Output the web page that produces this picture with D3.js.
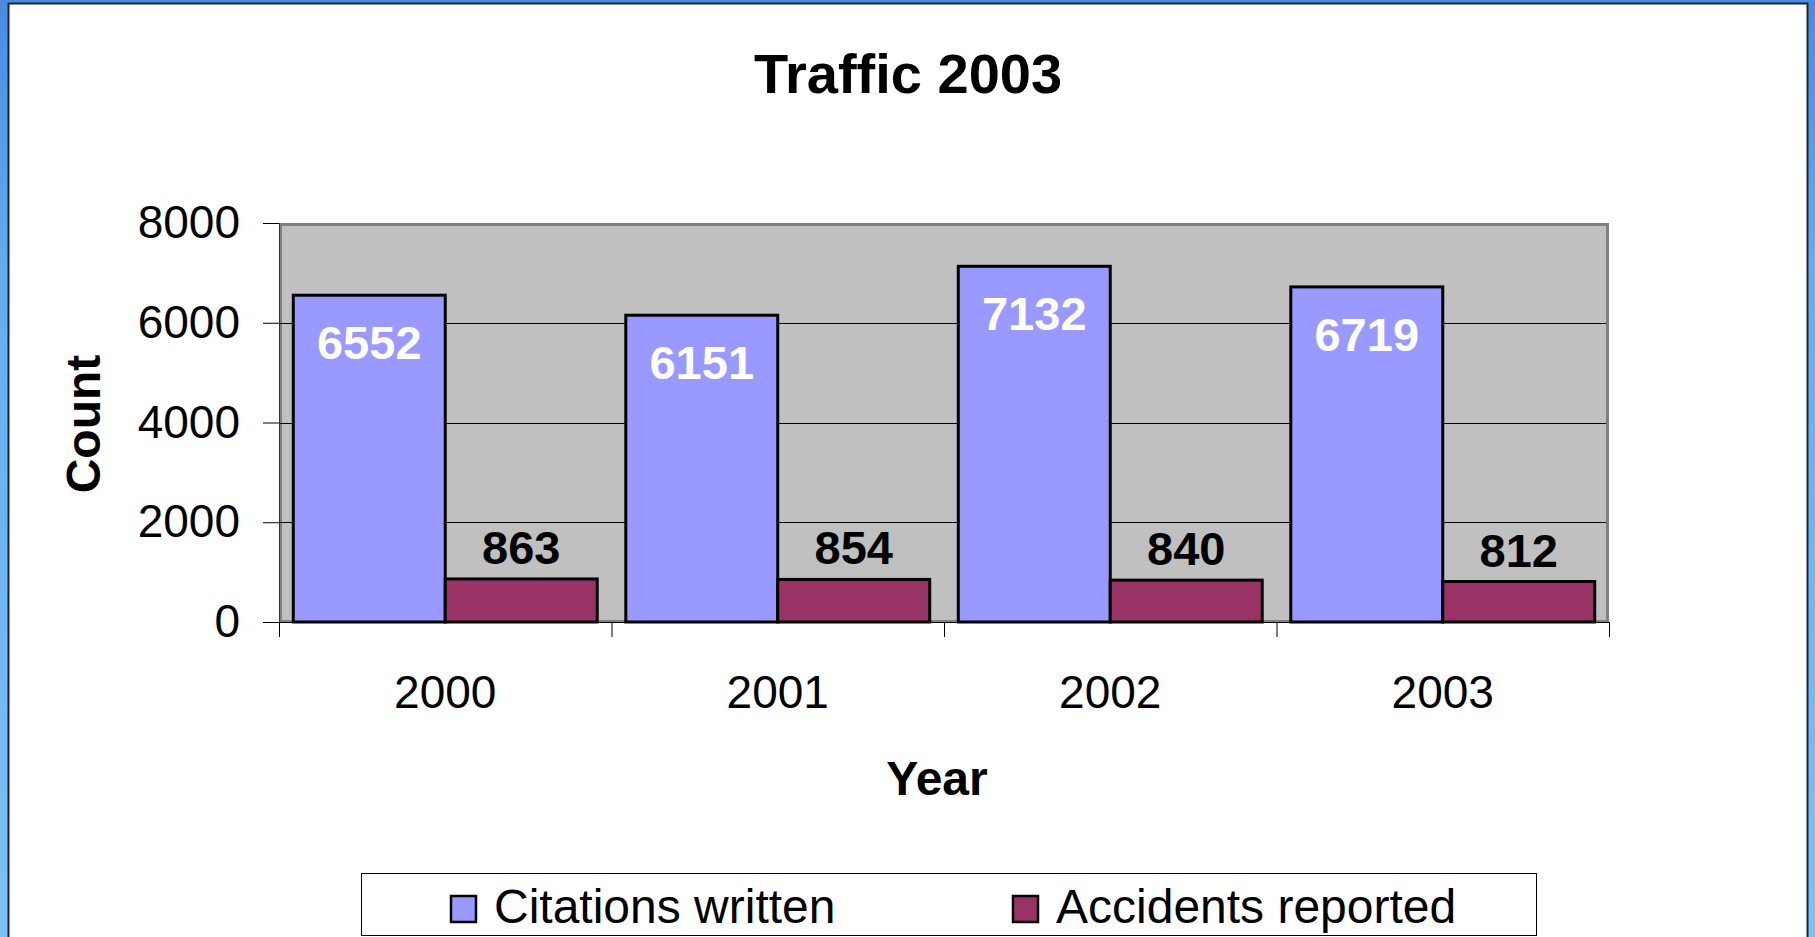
<!DOCTYPE html>
<html>
<head>
<meta charset="utf-8">
<script src="https://cdn.jsdelivr.net/npm/d3@7"></script>
<style>
  body { margin: 0; overflow: hidden; background: #fff; }
  text { font-family: "Liberation Sans", Arial, sans-serif; }
</style>
</head>
<body>
<div id="root"></div>
<script>
const WIDTH = 1815
const HEIGHT = 937

const years = ['2000', '2001', '2002', '2003']
const citations = [6552, 6151, 7132, 6719]
const accidents = [863, 854, 840, 812]
const seriesNames = ['Citations written', 'Accidents reported']
const seriesColors = ['#9999ff', '#993366']
const yTicks = [0, 2000, 4000, 6000, 8000]

const PLOT = { left: 279, right: 1609, top: 223, bottom: 622 }

const rows = years.map((y, i) => ({ year: y, values: [citations[i], accidents[i]] }))

const svg = d3.select('#root')
  .append('svg')
  .attr('width', WIDTH)
  .attr('height', HEIGHT)

// window frame around the chart
const grad = svg.append('defs').append('linearGradient')
  .attr('id', 'frameBlue')
  .attr('x1', 0).attr('y1', 0).attr('x2', 0).attr('y2', 1)
grad.append('stop').attr('offset', '0%').attr('stop-color', '#4a8be0')
grad.append('stop').attr('offset', '30%').attr('stop-color', '#66adf0')
grad.append('stop').attr('offset', '100%').attr('stop-color', '#7cc0f4')

svg.append('rect')
  .attr('width', WIDTH).attr('height', HEIGHT)
  .attr('fill', 'url(#frameBlue)')
svg.append('rect')
  .attr('x', 8.5).attr('y', 3.5)
  .attr('width', 1799).attr('height', 940)
  .attr('fill', '#fff')
  .attr('stroke', '#1c2633')
  .attr('stroke-width', 2)

const x0 = d3.scaleBand()
  .domain(years)
  .range([PLOT.left, PLOT.right])

const x1 = d3.scaleBand()
  .domain(seriesNames)
  .range([0, x0.bandwidth()])
  .paddingOuter(0.094)

const y = d3.scaleLinear()
  .domain([0, 8000])
  .range([PLOT.bottom, PLOT.top])

// plot area
svg.append('rect')
  .attr('x', PLOT.left + 1.5)
  .attr('y', PLOT.top + 1.5)
  .attr('width', PLOT.right - PLOT.left - 3)
  .attr('height', PLOT.bottom - PLOT.top - 2)
  .attr('fill', '#c0c0c0')
  .attr('stroke', '#808080')
  .attr('stroke-width', 3)

svg.append('g')
  .selectAll('line')
  .data(yTicks.filter(d => d > 0 && d < 8000))
  .enter()
  .append('line')
  .attr('x1', PLOT.left)
  .attr('x2', PLOT.right - 3)
  .attr('y1', d => Math.round(y(d)) + 0.5)
  .attr('y2', d => Math.round(y(d)) + 0.5)
  .attr('stroke', '#000')
  .attr('stroke-width', 1)

// y axis
const yAxis = svg.append('g')
  .attr('transform', `translate(${PLOT.left}, 0)`)
  .call(d3.axisLeft(y).tickValues(yTicks).tickFormat(d3.format('d')).tickSize(16).tickPadding(23))
yAxis.select('.domain').attr('stroke', '#333')
yAxis.selectAll('line').attr('stroke', '#000')
yAxis.selectAll('text')
  .attr('font-size', 46)
  .attr('fill', '#000')
  .style('font-family', '"Liberation Sans", Arial, sans-serif')

// x axis: boundary ticks + centred labels
const bounds = d3.scalePoint()
  .domain(d3.range(years.length + 1))
  .range([PLOT.left, PLOT.right])

const xTicks = svg.append('g')
  .attr('transform', `translate(0, ${PLOT.bottom})`)
  .call(d3.axisBottom(bounds).tickSize(15).tickFormat(''))
xTicks.select('.domain').attr('stroke', '#000')
xTicks.selectAll('line').attr('stroke', '#000')

const xLabels = svg.append('g')
  .attr('transform', `translate(0, ${PLOT.bottom})`)
  .call(d3.axisBottom(x0).tickSize(0))
xLabels.select('.domain').remove()
xLabels.selectAll('text')
  .attr('y', 86)
  .attr('dy', 0)
  .attr('font-size', 46)
  .attr('fill', '#000')
  .style('font-family', '"Liberation Sans", Arial, sans-serif')

// bars
const groups = svg.append('g')
  .selectAll('g')
  .data(rows)
  .enter()
  .append('g')
  .attr('transform', d => `translate(${x0(d.year)}, 0)`)

const bars = groups.selectAll('g')
  .data(d => d.values.map((v, i) => ({ name: seriesNames[i], value: v, idx: i })))
  .enter()
  .append('g')

bars.append('rect')
  .attr('x', d => x1(d.name))
  .attr('y', d => y(d.value))
  .attr('width', x1.bandwidth())
  .attr('height', d => y(0) - y(d.value))
  .attr('fill', d => seriesColors[d.idx])
  .attr('stroke', '#000')
  .attr('stroke-width', 3)

bars.append('text')
  .attr('x', d => x1(d.name) + x1.bandwidth() / 2)
  .attr('y', d => d.idx === 0 ? y(d.value) + 64 : y(d.value) - 15)
  .attr('text-anchor', 'middle')
  .attr('font-size', 47)
  .attr('font-weight', 'bold')
  .attr('fill', d => d.idx === 0 ? '#fff' : '#000')
  .text(d => d.value)

// titles
svg.append('text')
  .attr('x', 908)
  .attr('y', 93)
  .attr('text-anchor', 'middle')
  .attr('font-size', 56)
  .attr('font-weight', 'bold')
  .text('Traffic 2003')

svg.append('text')
  .attr('x', 937)
  .attr('y', 795)
  .attr('text-anchor', 'middle')
  .attr('font-size', 48)
  .attr('font-weight', 'bold')
  .text('Year')

svg.append('text')
  .attr('transform', 'translate(100, 424) rotate(-90)')
  .attr('text-anchor', 'middle')
  .attr('font-size', 48)
  .attr('font-weight', 'bold')
  .text('Count')

// legend
svg.append('rect')
  .attr('x', 361.5)
  .attr('y', 873.5)
  .attr('width', 1175)
  .attr('height', 62)
  .attr('fill', '#fff')
  .attr('stroke', '#000')
  .attr('stroke-width', 1)

const legendX = [451, 1013]
const legendItem = svg.append('g')
  .selectAll('g')
  .data(seriesNames)
  .enter()
  .append('g')
  .attr('transform', (_, i) => `translate(${legendX[i]}, 0)`)

legendItem.append('rect')
  .attr('x', 0)
  .attr('y', 896)
  .attr('width', 25)
  .attr('height', 26)
  .attr('fill', (_, i) => seriesColors[i])
  .attr('stroke', '#000')
  .attr('stroke-width', 2.5)

legendItem.append('text')
  .attr('x', 43)
  .attr('y', 923)
  .attr('font-size', 48)
  .text(d => d)
</script>
</body>
</html>
